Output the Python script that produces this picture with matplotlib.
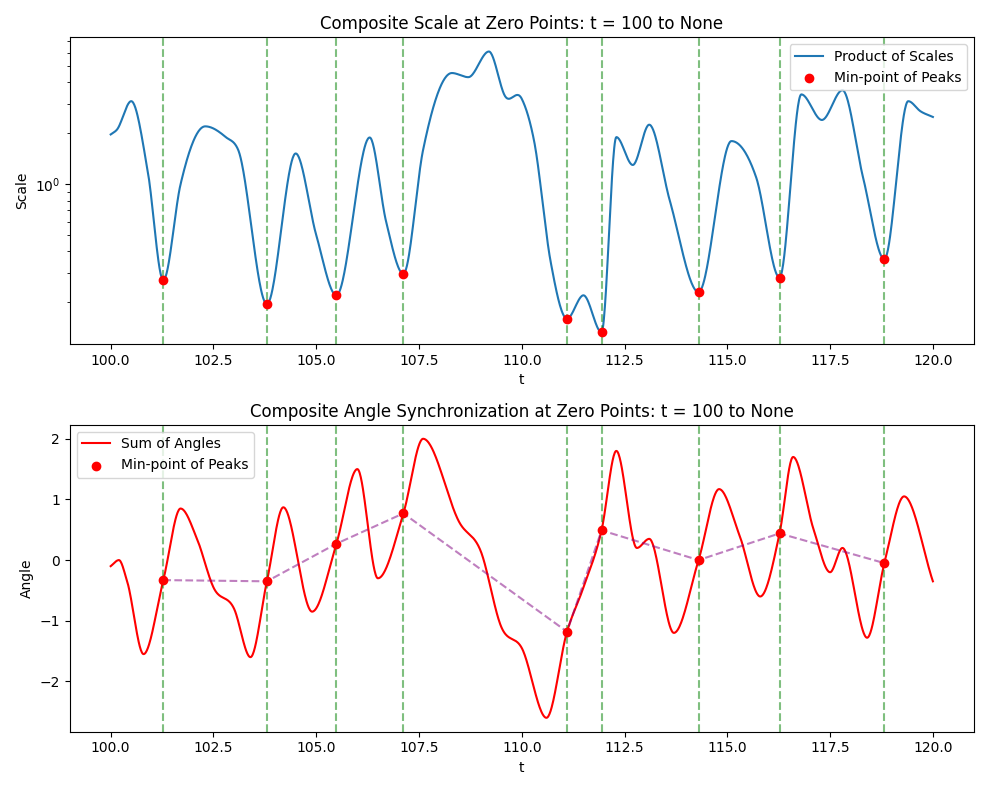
import numpy as np
import matplotlib
matplotlib.use("Agg")
import matplotlib.pyplot as plt

zero_t = [101.28, 103.8, 105.49, 107.12, 111.1, 111.94, 114.3, 116.27, 118.82]

scale_t = [100.0, 100.15, 100.5, 100.9, 101.28, 101.7, 102.3, 102.8, 103.1, 103.8, 104.5, 105.0, 105.49, 106.3,
           106.7, 107.12, 107.6, 108.3, 108.7, 109.2, 109.6, 110.0, 110.3, 110.7, 111.1, 111.5, 111.94,
           112.3, 112.7, 113.1, 113.6, 114.3, 115.1, 115.7, 116.27, 116.8, 117.3, 117.8, 118.3, 118.82, 119.4, 119.7, 120.0]
scale_v = [1.97, 2.1, 3.1, 1.2, 0.27, 1.0, 2.2, 1.9, 1.6, 0.195, 1.52, 0.5, 0.22, 1.89,
           0.6, 0.295, 1.6, 4.55, 4.3, 6.1, 3.3, 3.2, 1.8, 0.35, 0.16, 0.22, 0.133,
           1.9, 1.3, 2.25, 0.8, 0.23, 1.8, 1.1, 0.28, 3.4, 2.4, 3.6, 1.1, 0.36, 3.1, 2.7, 2.5]
scale_min = [0.27, 0.195, 0.22, 0.295, 0.16, 0.133, 0.23, 0.28, 0.36]

angle_t = [100.0, 100.2, 100.4, 100.8, 101.28, 101.7, 102.1, 102.5, 103.0, 103.4, 103.8, 104.2, 104.9, 105.49,
           106.0, 106.5, 107.12, 107.6, 108.5, 109.0, 109.5, 110.0, 110.6, 111.1, 111.5, 111.94,
           112.3, 112.8, 113.1, 113.7, 114.3, 114.8, 115.3, 115.8, 116.27, 116.6, 117.1, 117.5, 117.8,
           118.4, 118.82, 119.3, 120.0]
angle_v = [-0.1, 0.0, -0.35, -1.55, -0.33, 0.85, 0.35, -0.45, -0.8, -1.6, -0.35, 0.87, -0.85, 0.27,
           1.5, -0.3, 0.77, 2.0, 0.6, 0.15, -1.1, -1.45, -2.6, -1.18, -0.45, 0.49,
           1.8, 0.2, 0.35, -1.2, 0.0, 1.17, 0.4, -0.6, 0.44, 1.7, 0.5, -0.2, 0.2,
           -1.28, -0.05, 1.05, -0.35]
angle_min = [-0.33, -0.35, 0.27, 0.77, -1.18, 0.49, 0.0, 0.44, -0.05]


def smooth(xk, yk, n=1500):
    xk = np.asarray(xk, float); yk = np.asarray(yk, float)
    h = np.diff(xk); d = np.diff(yk) / h
    m = np.zeros_like(yk)
    m[1:-1] = (d[:-1] * h[1:] + d[1:] * h[:-1]) / (h[:-1] + h[1:])
    m[1:-1][d[:-1] * d[1:] <= 0] = 0.0
    m[0] = d[0]; m[-1] = d[-1]
    x = np.linspace(xk[0], xk[-1], n)
    i = np.clip(np.searchsorted(xk, x) - 1, 0, len(h) - 1)
    s = (x - xk[i]) / h[i]
    h00 = 2*s**3 - 3*s**2 + 1; h10 = s**3 - 2*s**2 + s
    h01 = -2*s**3 + 3*s**2; h11 = s**3 - s**2
    y = h00*yk[i] + h10*h[i]*m[i] + h01*yk[i+1] + h11*h[i]*m[i+1]
    return x, y

fig, (ax1, ax2) = plt.subplots(2, 1, figsize=(9.89, 7.9), dpi=100)

x, y = smooth(scale_t, np.log10(scale_v))
ax1.plot(x, 10**y, color='#1f77b4', label='Product of Scales')
for t in zero_t:
    ax1.axvline(t, color='green', linestyle='--', alpha=0.5)
ax1.scatter(zero_t, scale_min, color='red', zorder=5, label='Min-point of Peaks')
ax1.set_yscale('log')
ax1.set_ylim(0.113, 7.4)
ax1.set_xlabel('t'); ax1.set_ylabel('Scale')
ax1.set_title('Composite Scale at Zero Points: t = 100 to None')
ax1.legend(loc='upper right')

x, y = smooth(angle_t, angle_v)
ax2.plot(x, y, color='red', label='Sum of Angles')
for t in zero_t:
    ax2.axvline(t, color='green', linestyle='--', alpha=0.5)
ax2.plot(zero_t, angle_min, color='purple', linestyle='--', alpha=0.5)
ax2.scatter(zero_t, angle_min, color='red', zorder=5, label='Min-point of Peaks')
ax2.set_xlabel('t'); ax2.set_ylabel('Angle')
ax2.set_title('Composite Angle Synchronization at Zero Points: t = 100 to None')
ax2.legend(loc='upper left')

fig.tight_layout()
fig.savefig('out.png')
